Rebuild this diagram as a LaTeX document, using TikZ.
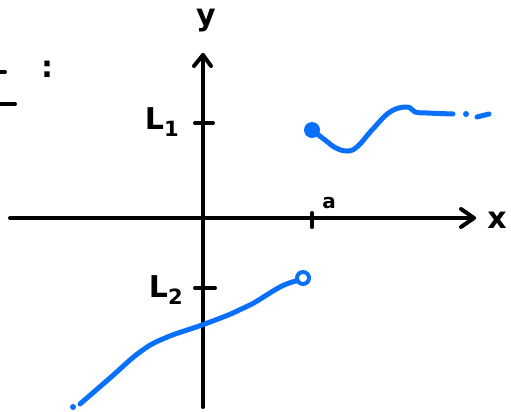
\documentclass[tikz,border=0pt]{standalone}
\usepackage{fontspec}
\setmainfont{DejaVu Sans}
\definecolor{pen}{RGB}{8,112,250}
\begin{document}
\begin{tikzpicture}[x=1pt,y=-1pt,
  axis/.style={line width=4pt,line cap=round,line join=round},
  curve/.style={pen,line width=5pt,line cap=round,line join=round},
  lab/.style={font=\fontsize{30}{30}\selectfont\bfseries,inner sep=0pt},
  small/.style={font=\fontsize{20}{20}\selectfont\bfseries,inner sep=0pt}]
\useasboundingbox (0,0) rectangle (511,412);
% axes
\coordinate (xl) at (10,218);
\coordinate (xr) at (474,218);
\coordinate (yb) at (203,407);
\coordinate (yt) at (203,55);
\draw[axis] (xl) -- (xr);
\draw[axis] (461,209) -- (xr) -- (461,227);
\draw[axis] (yb) -- (yt);
\draw[axis] (194,66) -- (yt) -- (211,66);
% ticks
\draw[axis] (195,123) -- (213,123);
\draw[axis] (195,288) -- (215,288);
\draw[axis] (312,213) -- (312,227);
% labels
\node[lab] (ylab) at (206,21) {y};
\node[lab] (xlab) at (497,220) {x};
\node[small] (alab) at (329,203) {a};
\node[lab] (l1) at (162,122) {L\textsubscript{1}};
\node[lab] (l2) at (166,290) {L\textsubscript{2}};
% top-left fragment
\draw[axis] (0,72) -- (5,72);
\draw[axis] (0,104) -- (15,104);
\node[lab] (colon) at (47,69) {:};
% upper curve
\fill[pen] (312,130) circle (8);
\draw[curve] plot[smooth,tension=0.7] coordinates {(312,130) (325,140) (336,148) (348,151) (358,146) (372,130) (390,112) (407,107) (415,112) (427,113) (453,114)};
\fill[pen] (466,114) circle (3);
\draw[curve] (477,117) -- (489,114);
% lower curve
\fill[pen] (73,407) circle (3);
\draw[curve] plot[smooth,tension=0.7] coordinates {(80,404) (110,378) (140,352) (165,338) (202,325) (233,313) (252,304) (280,287) (296,281)};
\draw[pen,line width=4pt] (303,278) circle (6);
\end{tikzpicture}
\end{document}
